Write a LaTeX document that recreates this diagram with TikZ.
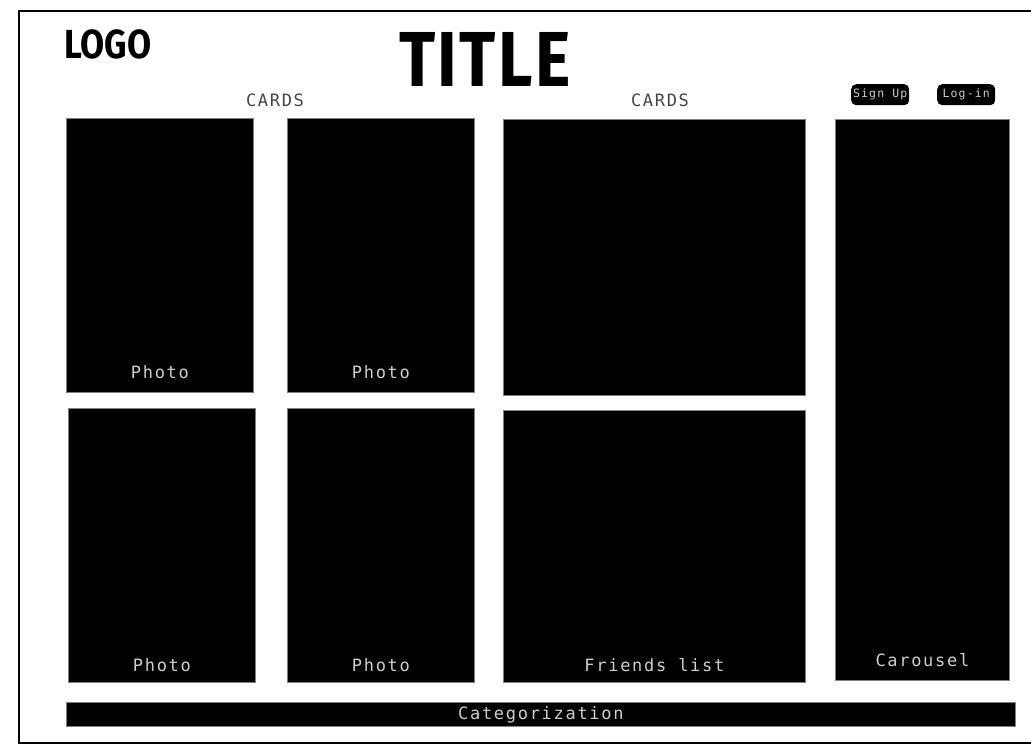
\documentclass[tikz,border=0pt]{standalone}
\usepackage{fontspec}
\setmainfont{DejaVu Sans Mono}
\newfontfamily\headfont[FakeStretch=0.86]{Fira Sans}
\newfontfamily\titlefont[FakeStretch=0.86,LetterSpace=3]{Fira Sans}
\newfontfamily\labelfont[LetterSpace=10]{DejaVu Sans Mono}
\usetikzlibrary{positioning}

\begin{document}
\begin{tikzpicture}[x=1pt, y=-1pt]
    \definecolor{labelgrey}{RGB}{205,205,205}
    \definecolor{capgrey}{RGB}{70,70,70}
    \tikzset{
      blockbox/.style={draw=gray, line width=0.8pt, fill=black,
        anchor=north west, inner sep=0pt},
      blocktext/.style={anchor=base, text=labelgrey, inner sep=0pt,
        font=\fontsize{17}{20}\labelfont},
      heading/.style={anchor=base, text=capgrey, inner sep=0pt,
        font=\fontsize{17}{20}\labelfont},
      authbtn/.style={fill=black, rounded corners=5pt, anchor=north west,
        minimum width=58pt, minimum height=21pt, inner sep=0pt,
        text=labelgrey, font=\fontsize{11.5}{13}\labelfont}
    }
    \useasboundingbox (0,0) rectangle (1031,744);

    % page frame, open on the right
    \draw[line width=2pt] (1031,11) -- (19,11) -- (19,743) -- (1031,743);

    % header
    \node[anchor=base west, inner sep=0pt, font=\fontsize{40.6}{44}\headfont\bfseries] (logo) at (64,58) {LOGO};
    \node[anchor=base west, inner sep=0pt, font=\fontsize{78}{80}\titlefont\bfseries] (title) at (399,86) {TITLE};
    \node[heading] (cardsLeft) at (275,106) {CARDS};
    \node[heading] (cardsRight) at (660,106) {CARDS};
    \node[authbtn] (signup) at (851,84) {Sign Up};
    \node[authbtn] (login) at (937,84) {Log-in};

    % photo cards
    \node[blockbox, minimum width=187pt, minimum height=274pt] (photoA) at (66,118) {};
    \node[blockbox, minimum width=187pt, minimum height=274pt] (photoB) at (287,118) {};
    \node[blockbox, minimum width=187pt, minimum height=274pt] (photoC) at (68,408) {};
    \node[blockbox, minimum width=187pt, minimum height=274pt] (photoD) at (287,408) {};
    \node[blocktext] at ([yshift=14pt]photoA.south) {Photo};
    \node[blocktext] at ([yshift=14pt]photoB.south) {Photo};
    \node[blocktext] at ([yshift=11pt]photoC.south) {Photo};
    \node[blocktext] at ([yshift=11pt]photoD.south) {Photo};

    % right column
    \node[blockbox, minimum width=302pt, minimum height=276pt] (feed) at (503,119) {};
    \node[blockbox, minimum width=302pt, minimum height=272pt] (friends) at (503,410) {};
    \node[blocktext] at ([yshift=11pt]friends.south) {Friends list};
    \node[blockbox, minimum width=174pt, minimum height=561pt] (carousel) at (835,119) {};
    \node[blocktext] at ([yshift=14pt]carousel.south) {Carousel};

    % footer bar
    \node[blockbox, minimum width=949pt, minimum height=24pt] (categories) at (66,702) {};
    \node[blocktext] at ([yshift=7pt]categories.south) {Categorization};
\end{tikzpicture}
\end{document}
